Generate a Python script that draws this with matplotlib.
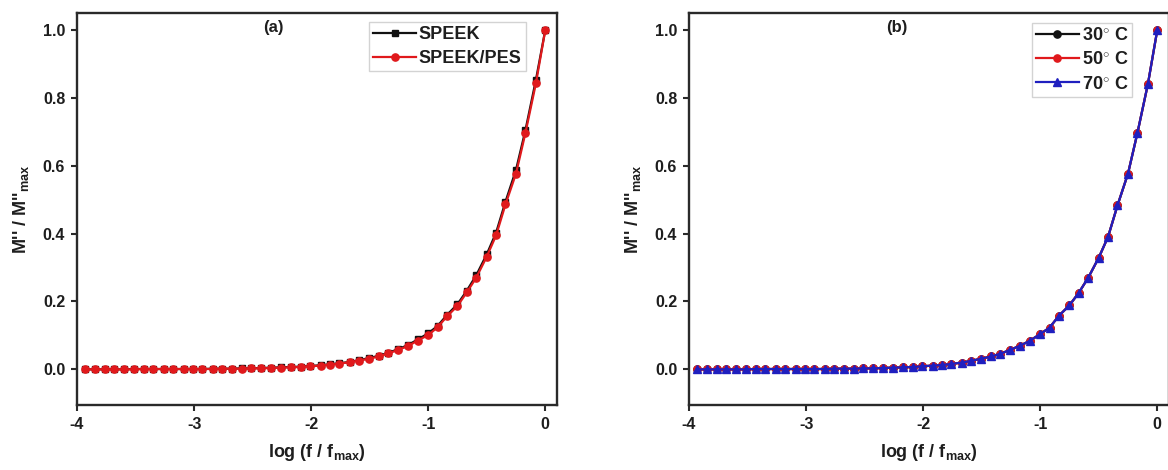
import matplotlib
matplotlib.use("Agg")
import matplotlib.pyplot as plt

# ---- data ----
log_f = [-3.93, -3.85, -3.76, -3.68, -3.60, -3.51, -3.43, -3.35, -3.26, -3.18,
         -3.09, -3.01, -2.93, -2.84, -2.76, -2.68, -2.59, -2.51, -2.43, -2.34,
         -2.26, -2.17, -2.09, -2.01, -1.92, -1.84, -1.76, -1.67, -1.59, -1.51,
         -1.42, -1.34, -1.26, -1.17, -1.09, -1.00, -0.92, -0.84, -0.75, -0.67,
         -0.59, -0.50, -0.42, -0.34, -0.25, -0.17, -0.08, 0.00]

speek = [0.000, 0.000, 0.000, 0.000, 0.000, 0.001, 0.001, 0.001, 0.001, 0.001,
         0.001, 0.001, 0.001, 0.002, 0.002, 0.002, 0.003, 0.003, 0.004, 0.005,
         0.006, 0.007, 0.008, 0.010, 0.012, 0.015, 0.018, 0.022, 0.027, 0.033,
         0.040, 0.049, 0.059, 0.072, 0.088, 0.106, 0.128, 0.160, 0.192, 0.232,
         0.277, 0.339, 0.403, 0.494, 0.588, 0.704, 0.853, 1.000]

speek_pes = [0.000, 0.000, 0.000, 0.000, 0.000, 0.000, 0.001, 0.001, 0.001, 0.001,
             0.001, 0.001, 0.001, 0.001, 0.002, 0.002, 0.002, 0.003, 0.003, 0.004,
             0.005, 0.006, 0.007, 0.009, 0.011, 0.014, 0.017, 0.021, 0.026, 0.031,
             0.038, 0.047, 0.057, 0.069, 0.085, 0.101, 0.124, 0.156, 0.187, 0.227,
             0.270, 0.332, 0.395, 0.486, 0.577, 0.696, 0.843, 1.000]

t30 = [0.000, 0.000, 0.000, 0.000, 0.000, 0.000, 0.001, 0.001, 0.001, 0.001,
       0.001, 0.001, 0.001, 0.001, 0.002, 0.002, 0.002, 0.003, 0.003, 0.004,
       0.005, 0.006, 0.007, 0.009, 0.011, 0.013, 0.016, 0.020, 0.025, 0.031,
       0.038, 0.046, 0.057, 0.070, 0.084, 0.104, 0.123, 0.158, 0.189, 0.226,
       0.270, 0.329, 0.391, 0.483, 0.577, 0.696, 0.841, 1.000]

t50 = [0.000, 0.000, 0.000, 0.000, 0.000, 0.000, 0.001, 0.001, 0.001, 0.001,
       0.001, 0.001, 0.001, 0.001, 0.002, 0.002, 0.002, 0.003, 0.003, 0.004,
       0.005, 0.006, 0.007, 0.009, 0.011, 0.013, 0.016, 0.020, 0.025, 0.031,
       0.038, 0.046, 0.057, 0.070, 0.084, 0.104, 0.123, 0.158, 0.189, 0.226,
       0.270, 0.329, 0.391, 0.483, 0.577, 0.696, 0.841, 1.000]

t70 = [0.000, 0.000, 0.000, 0.000, 0.000, 0.000, 0.001, 0.001, 0.001, 0.001,
       0.001, 0.001, 0.001, 0.001, 0.002, 0.002, 0.002, 0.003, 0.003, 0.004,
       0.005, 0.006, 0.007, 0.009, 0.011, 0.013, 0.016, 0.020, 0.025, 0.031,
       0.038, 0.046, 0.057, 0.070, 0.084, 0.104, 0.123, 0.158, 0.189, 0.226,
       0.270, 0.329, 0.391, 0.483, 0.577, 0.696, 0.841, 1.000]

x_ticks = [-4, -3, -2, -1, 0]
y_ticks = [0.0, 0.2, 0.4, 0.6, 0.8, 1.0]

# ---- style ----
plt.rcParams['font.family'] = ['Liberation Sans', 'DejaVu Sans']
plt.rcParams['font.weight'] = 'bold'
plt.rcParams['mathtext.fontset'] = 'custom'
plt.rcParams['mathtext.rm'] = 'Liberation Sans:bold'
plt.rcParams['mathtext.it'] = 'Liberation Sans:bold'
plt.rcParams['mathtext.bf'] = 'Liberation Sans:bold'

spine_c = '#2a2a2a'
TXT = '#1e1e1e'
BLACK = '#111111'
RED = '#e0191c'
BLUE = '#1f1fbf'

fig = plt.figure(figsize=(11.68, 4.70), dpi=100)
axa = fig.add_axes([77/1168, 65/470, 480/1168, 392/470])
axb = fig.add_axes([689/1168, 65/470, 480/1168, 392/470])

def style(ax):
    ax.set_xlim(-4, 0.1)
    ax.set_ylim(-0.105, 1.05)
    ax.set_xticks(x_ticks)
    ax.set_xticklabels([str(v) for v in x_ticks])
    ax.set_yticks(y_ticks)
    ax.set_yticklabels([f"{v:.1f}" for v in y_ticks])
    for s in ax.spines.values():
        s.set_linewidth(1.7)
        s.set_color(spine_c)
    ax.tick_params(direction='out', length=4.5, width=1.5, color=spine_c,
                   labelsize=11.5, pad=4)
    for lab in ax.get_xticklabels() + ax.get_yticklabels():
        lab.set_fontweight('bold')
        lab.set_color(TXT)
    ax.yaxis.set_label_coords(-0.096, 0.5)

style(axa)
style(axb)

def make_legend(ax, anchor):
    leg = ax.legend(loc='upper right', bbox_to_anchor=anchor, borderaxespad=0,
                    fontsize=13, frameon=True, fancybox=False, handlelength=2.4,
                    handletextpad=0.15, labelspacing=0.4, borderpad=0.22)
    leg.get_frame().set_edgecolor('#c8c8c8')
    leg.get_frame().set_linewidth(1.0)
    for t in leg.get_texts():
        t.set_fontweight('bold')
        t.set_color(TXT)
    return leg

# panel (a)
axa.plot(log_f, speek, '-s', color=BLACK, lw=1.6, ms=4.5, label='SPEEK', zorder=3)
axa.plot(log_f, speek_pes, '-o', color=RED, lw=1.6, ms=5.2, label='SPEEK/PES', zorder=4)
axa.text(0.41, 0.962, '(a)', transform=axa.transAxes, ha='center', va='center',
         fontsize=12, fontweight='bold', color=TXT)
axa.set_ylabel(r"M'' / M''$_{\mathregular{max}}$", fontsize=13, fontweight='bold', color=TXT)
axa.set_xlabel(r"log (f / f$_{\mathregular{max}}$)", fontsize=13, fontweight='bold',
               color=TXT, labelpad=7)
make_legend(axa, (0.935, 0.977))

# panel (b)
axb.plot(log_f, t30, '-o', color=BLACK, lw=1.6, ms=5.2, label=r'30$^{\circ}$ C', zorder=3)
axb.plot(log_f, t50, '-o', color=RED, lw=1.6, ms=5.2, label=r'50$^{\circ}$ C', zorder=4)
axb.plot(log_f, t70, '-^', color=BLUE, lw=1.6, ms=5.8, label=r'70$^{\circ}$ C', zorder=5)
axb.text(0.433, 0.962, '(b)', transform=axb.transAxes, ha='center', va='center',
         fontsize=12, fontweight='bold', color=TXT)
axb.set_ylabel(r"M'' / M''$_{\mathregular{max}}$", fontsize=13, fontweight='bold', color=TXT)
axb.set_xlabel(r"log (f / f$_{\mathregular{max}}$)", fontsize=13, fontweight='bold',
               color=TXT, labelpad=7)
make_legend(axb, (0.923, 0.974))

fig.savefig('out.png', dpi=100, facecolor='white')
